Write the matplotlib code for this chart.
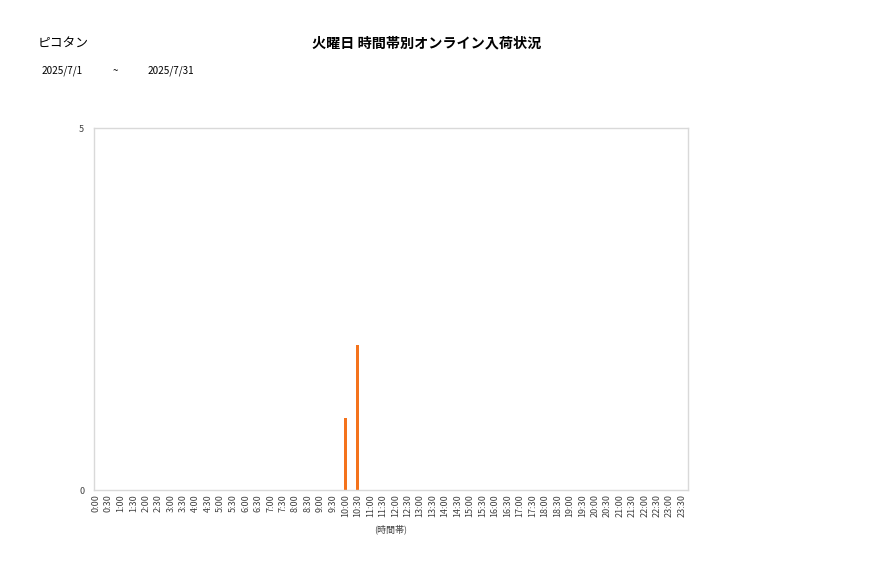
import matplotlib
matplotlib.use('Agg')
import matplotlib.pyplot as plt

plt.rcParams['font.family'] = ['Noto Sans CJK JP', 'DejaVu Sans']

# time slots 0:00 - 23:30
slots = ['%d:%s' % (h, m) for h in range(24) for m in ('00', '30')]
counts = [0] * 48
counts[slots.index('10:00')] = 1
counts[slots.index('10:30')] = 2

shop = 'ピコタン'
title = '火曜日 時間帯別オンライン入荷状況'
date_from = '2025/7/1'
date_to = '2025/7/31'

fig = plt.figure(figsize=(8.77, 5.78), dpi=100)
ax = fig.add_axes([0.1072, 0.1522, 0.6773, 0.6263])

x = list(range(len(slots)))
ax.bar(x, counts, width=0.25, color='#F4731C')

ax.set_xlim(-0.16, len(slots) - 0.52)
ax.set_ylim(0, 5)
ax.set_yticks([0, 5])
ax.set_xticks(x)
ax.set_xticklabels(slots, rotation=90, fontsize=6.5, color='#404040')
ax.tick_params(axis='both', length=0, pad=3)
ax.tick_params(axis='y', labelsize=6.5, labelcolor='#404040', pad=7)
ax.set_xlabel('(時間帯)', fontsize=6.5, color='#404040', labelpad=5)
for s in ax.spines.values():
    s.set_color('#D9D9D9')
    s.set_linewidth(1)

fig.text(38 / 877, 1 - 43 / 578, shop, fontsize=9.2, va='center', ha='left')
fig.text(427 / 877, 1 - 43 / 578, title, fontsize=10.2, va='center', ha='center', fontweight='bold')
fig.text(42 / 877, 1 - 71 / 578, date_from, fontsize=7.2, va='center', ha='left')
fig.text(113 / 877, 1 - 71 / 578, '~', fontsize=7, va='center', ha='left')
fig.text(148 / 877, 1 - 71 / 578, date_to, fontsize=7.2, va='center', ha='left')

plt.savefig('out.png', dpi=100)
